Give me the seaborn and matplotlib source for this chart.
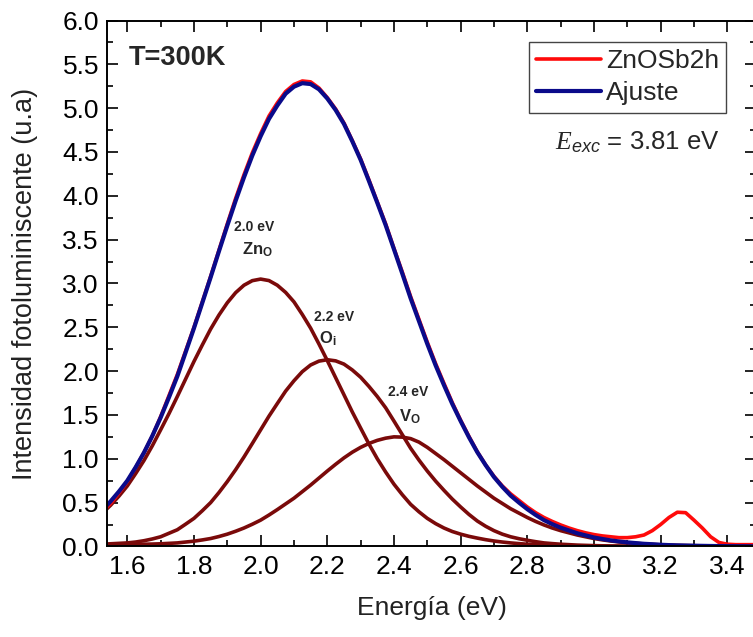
import numpy as np
import pandas as pd
import matplotlib.pyplot as plt
import seaborn as sns
from matplotlib.lines import Line2D
from matplotlib.ticker import MultipleLocator, FormatStrFormatter

# energy grid (eV) shared by the fit and its three components
energy = [1.525, 1.550, 1.575, 1.600, 1.625, 1.650, 1.675, 1.700, 1.725, 1.750,
          1.775, 1.800, 1.825, 1.850, 1.875, 1.900, 1.925, 1.950, 1.975, 2.000,
          2.025, 2.050, 2.075, 2.100, 2.125, 2.150, 2.175, 2.200, 2.225, 2.250,
          2.275, 2.300, 2.325, 2.350, 2.375, 2.400, 2.425, 2.450, 2.475, 2.500,
          2.525, 2.550, 2.575, 2.600, 2.625, 2.650, 2.675, 2.700, 2.725, 2.750,
          2.775, 2.800, 2.825, 2.850, 2.875, 2.900, 2.925, 2.950, 2.975, 3.000,
          3.025, 3.050, 3.075, 3.100, 3.125, 3.150, 3.175, 3.200, 3.225, 3.250,
          3.275, 3.300, 3.325, 3.350, 3.375, 3.400, 3.425, 3.450, 3.475, 3.500]

zn_o = [0.379, 0.47, 0.574, 0.69, 0.831, 0.98, 1.148, 1.33, 1.515, 1.71,
        1.91, 2.11, 2.298, 2.48, 2.64, 2.78, 2.895, 2.98, 3.032, 3.05,
        3.033, 2.98, 2.898, 2.79, 2.646, 2.49, 2.309, 2.12, 1.925, 1.73,
        1.534, 1.35, 1.168, 1.00, 0.849, 0.71, 0.59, 0.48, 0.395, 0.32,
        0.26, 0.21, 0.17, 0.14, 0.115, 0.095, 0.077, 0.062, 0.05, 0.04,
        0.032, 0.025, 0.02, 0.015, 0.012, 0.009, 0.007, 0.005, 0.004, 0.003,
        0.0025, 0.002, 0.0015, 0.001, 0.0, 0.0, 0.0, 0.0, 0.0, 0.0,
        0.0, 0.0, 0.0, 0.0, 0.0, 0.0, 0.0, 0.0, 0.0, 0.0]

o_i = [0.025, 0.03, 0.035, 0.04, 0.05, 0.065, 0.085, 0.11, 0.15, 0.19,
       0.254, 0.32, 0.407, 0.50, 0.615, 0.74, 0.875, 1.02, 1.174, 1.33,
       1.486, 1.63, 1.772, 1.89, 1.994, 2.07, 2.114, 2.13, 2.117, 2.08,
       2.013, 1.93, 1.825, 1.71, 1.582, 1.43, 1.275, 1.12, 0.985, 0.86,
       0.745, 0.64, 0.54, 0.45, 0.365, 0.29, 0.23, 0.18, 0.14, 0.11,
       0.088, 0.07, 0.054, 0.04, 0.032, 0.025, 0.02, 0.015, 0.012, 0.009,
       0.007, 0.005, 0.004, 0.003, 0.0025, 0.002, 0.0015, 0.001, 0.0, 0.0,
       0.0, 0.0, 0.0, 0.0, 0.0, 0.0, 0.0, 0.0, 0.0, 0.0]

v_o = [0.012, 0.015, 0.018, 0.02, 0.022, 0.025, 0.027, 0.03, 0.035, 0.04,
       0.05, 0.06, 0.074, 0.09, 0.113, 0.14, 0.173, 0.21, 0.253, 0.30,
       0.358, 0.42, 0.485, 0.55, 0.625, 0.70, 0.78, 0.86, 0.937, 1.01,
       1.075, 1.13, 1.175, 1.21, 1.235, 1.25, 1.247, 1.23, 1.19, 1.13,
       1.06, 0.99, 0.915, 0.84, 0.765, 0.69, 0.62, 0.55, 0.49, 0.43,
       0.38, 0.33, 0.285, 0.245, 0.21, 0.18, 0.155, 0.13, 0.11, 0.09,
       0.075, 0.062, 0.051, 0.042, 0.035, 0.028, 0.023, 0.018, 0.015, 0.012,
       0.01, 0.008, 0.0065, 0.005, 0.004, 0.003, 0.0025, 0.002, 0.0015, 0.001]

ajuste = [0.416, 0.515, 0.627, 0.75, 0.903, 1.07, 1.26, 1.47, 1.70, 1.94,
          2.214, 2.49, 2.779, 3.07, 3.368, 3.66, 3.943, 4.21, 4.459, 4.68,
          4.877, 5.03, 5.165, 5.245, 5.285, 5.275, 5.215, 5.11, 4.979, 4.82,
          4.622, 4.41, 4.168, 3.92, 3.666, 3.39, 3.112, 2.83, 2.57, 2.31,
          2.065, 1.84, 1.625, 1.43, 1.245, 1.075, 0.927, 0.792, 0.68, 0.58,
          0.50, 0.425, 0.359, 0.30, 0.254, 0.214, 0.182, 0.15, 0.126, 0.102,
          0.085, 0.069, 0.057, 0.046, 0.038, 0.03, 0.025, 0.019, 0.015, 0.012,
          0.01, 0.008, 0.0065, 0.005, 0.004, 0.003, 0.0025, 0.002, 0.0015, 0.001]

# measured spectrum ZnOSb2h, same energy grid
pl_data = [0.40, 0.49, 0.61, 0.74, 0.90, 1.07, 1.26, 1.48, 1.72, 1.96,
           2.23, 2.50, 2.79, 3.08, 3.38, 3.68, 3.97, 4.24, 4.49, 4.71,
           4.91, 5.06, 5.19, 5.27, 5.31, 5.30, 5.23, 5.12, 4.99, 4.83,
           4.63, 4.42, 4.18, 3.93, 3.68, 3.40, 3.13, 2.85, 2.59, 2.33,
           2.085, 1.86, 1.64, 1.44, 1.255, 1.08, 0.93, 0.80, 0.69, 0.60,
           0.525, 0.45, 0.385, 0.33, 0.285, 0.245, 0.21, 0.18, 0.155, 0.135,
           0.12, 0.11, 0.10, 0.10, 0.11, 0.13, 0.18, 0.25, 0.33, 0.39,
           0.385, 0.30, 0.21, 0.11, 0.045, 0.025, 0.02, 0.02, 0.02, 0.02]

peak_labels = ["2.0 eV", "2.2 eV", "2.4 eV"]
defect_labels = [r"Zn$_{\mathbf{O}}$", r"O$_{\mathbf{i}}$", r"V$_{\mathbf{O}}$"]

RED = "#FF0A0A"
NAVY = "#0A0A8A"
BROWN = "#7A0A0A"

sns.set_style("ticks")
plt.rcParams["font.family"] = ["Liberation Sans", "DejaVu Sans"]
plt.rcParams["mathtext.fontset"] = "custom"
plt.rcParams["mathtext.rm"] = "Liberation Sans"
plt.rcParams["mathtext.bf"] = "Liberation Sans:bold"
plt.rcParams["mathtext.sf"] = "Liberation Sans:italic"
plt.rcParams["mathtext.it"] = "Liberation Serif:italic"

df = pd.DataFrame({"E": energy, "ZnO": zn_o, "Oi": o_i, "VO": v_o,
                   "fit": ajuste, "PL": pl_data})

fig = plt.figure(figsize=(7.53, 6.37), dpi=100)
ax = fig.add_axes([0.1425, 0.1422, 0.8610, 0.8256])

for col in ["ZnO", "Oi", "VO"]:
    sns.lineplot(data=df, x="E", y=col, ax=ax, color=BROWN, lw=2.6,
                 estimator=None, sort=False, legend=False)
sns.lineplot(data=df, x="E", y="PL", ax=ax, color=RED, lw=2.6,
             estimator=None, sort=False, legend=False)
sns.lineplot(data=df, x="E", y="fit", ax=ax, color=NAVY, lw=3.0,
             estimator=None, sort=False, legend=False)

ax.set_xlim(1.54, 3.485)
ax.set_ylim(0, 6.0)
ax.xaxis.set_major_locator(MultipleLocator(0.2))
ax.xaxis.set_minor_locator(MultipleLocator(0.1))
ax.yaxis.set_major_locator(MultipleLocator(0.5))
ax.yaxis.set_minor_locator(MultipleLocator(0.25))
ax.xaxis.set_major_formatter(FormatStrFormatter("%.1f"))
ax.yaxis.set_major_formatter(FormatStrFormatter("%.1f"))
ax.tick_params(which="both", direction="in", top=True, right=True,
               labelsize=19, width=1.2, colors="black", pad=6)
ax.tick_params(which="major", length=8)
ax.tick_params(which="minor", length=4)
for sp in ax.spines.values():
    sp.set_linewidth(1.4)
    sp.set_color("black")

ax.set_xlabel("Energía (eV)", fontsize=19, color="#222222")
ax.set_ylabel("Intensidad fotoluminiscente (u.a)", fontsize=19.5, color="#222222")
ax.xaxis.set_label_coords(0.5, -0.094)
ax.yaxis.set_label_coords(-0.1076, 0.5)

ax.text(1.603, 5.57, "T=300K", fontsize=19.5, fontweight="bold", ha="left", va="center")

label_x = [1.979, 2.22, 2.443]
label_y = [3.64, 2.62, 1.764]
defect_x = [1.99, 2.202, 2.447]
defect_y = [3.33, 2.316, 1.42]
for lx, ly, txt in zip(label_x, label_y, peak_labels):
    ax.text(lx, ly, txt, fontsize=10, fontweight="bold", ha="center", va="center")
for dx, dy, txt in zip(defect_x, defect_y, defect_labels):
    ax.text(dx, dy, txt, fontsize=12, fontweight="bold", ha="center", va="baseline")

ax.text(3.378, 4.61, r"$\mathit{E}_{\mathsf{exc}}$ = 3.81 eV", fontsize=18.5,
        ha="right", va="center")

handles = [Line2D([], [], color=RED, lw=2.6), Line2D([], [], color=NAVY, lw=3.0)]
leg = ax.legend(handles, ["ZnOSb2h", "Ajuste"], loc="upper right",
                bbox_to_anchor=(0.955, 0.959), borderaxespad=0, fontsize=19,
                handlelength=2.45, handletextpad=0.2, labelspacing=0.3,
                borderpad=0.28, fancybox=False, framealpha=1, edgecolor="#444444")
leg.get_frame().set_linewidth(1.0)

fig.savefig("out.png", dpi=100)
